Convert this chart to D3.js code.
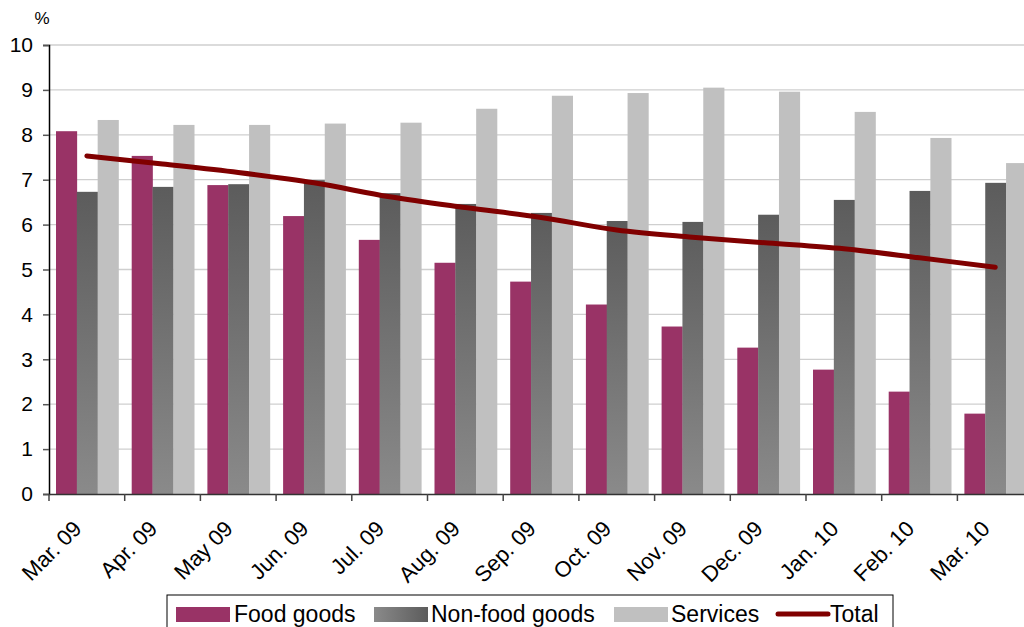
<!DOCTYPE html>
<html>
<head>
<meta charset="utf-8">
<script src="https://cdn.jsdelivr.net/npm/d3@7"></script>
<style>
  body { margin: 0; background: #fff; }
  svg { font-family: "Liberation Sans", Arial, sans-serif; display: block; }
</style>
</head>
<body>
<div id="chart"></div>
<script>
var months = ["Mar. 09", "Apr. 09", "May 09", "Jun. 09", "Jul. 09", "Aug. 09", "Sep. 09",
  "Oct. 09", "Nov. 09", "Dec. 09", "Jan. 10", "Feb. 10", "Mar. 10"];
var foodGoods = [8.08, 7.53, 6.88, 6.19, 5.66, 5.15, 4.73, 4.22, 3.73, 3.26, 2.77, 2.28, 1.79];
var nonFoodGoods = [6.73, 6.84, 6.9, 6.99, 6.7, 6.46, 6.26, 6.08, 6.06, 6.22, 6.55, 6.75, 6.93];
var services = [8.33, 8.22, 8.22, 8.25, 8.27, 8.58, 8.87, 8.93, 9.05, 8.96, 8.51, 7.93, 7.37];
var total = [7.53, 7.35, 7.16, 6.93, 6.62, 6.38, 6.16, 5.88, 5.72, 5.59, 5.46, 5.26, 5.05];
var seriesNames = ["Food goods", "Non-food goods", "Services"];
var yTicks = [0, 1, 2, 3, 4, 5, 6, 7, 8, 9, 10];

var svgWidth = 1024;
var svgHeight = 627;
var plotLeft = 49, plotTop = 45, plotBottom = 494;
var step = 75.7;

var svg = d3.select("#chart")
  .append("svg")
  .attr("width", svgWidth)
  .attr("height", svgHeight);

// gradients for the non-food bars
var defs = svg.append("defs");
var grad = defs.append("linearGradient")
  .attr("id", "nonfood")
  .attr("x1", 0).attr("y1", 0).attr("x2", 0).attr("y2", 1);
grad.append("stop").attr("offset", "0%").attr("stop-color", "#5c5c5c");
grad.append("stop").attr("offset", "100%").attr("stop-color", "#8a8a8a");

var gradH = defs.append("linearGradient")
  .attr("id", "nonfoodH")
  .attr("x1", 0).attr("y1", 0).attr("x2", 1).attr("y2", 0);
gradH.append("stop").attr("offset", "0%").attr("stop-color", "#8a8a8a");
gradH.append("stop").attr("offset", "100%").attr("stop-color", "#5c5c5c");

var x0 = d3.scaleBand()
  .domain(months)
  .range([plotLeft, plotLeft + step * months.length])
  .padding(0);

var x1 = d3.scaleBand()
  .domain(seriesNames)
  .range([7, 69.5]);

var y = d3.scaleLinear()
  .domain([0, 10])
  .range([plotBottom, plotTop]);

var colors = {"Food goods": "#993366", "Non-food goods": "url(#nonfood)", "Services": "#c0c0c0"};
var seriesData = {"Food goods": foodGoods, "Non-food goods": nonFoodGoods, "Services": services};

// gridlines
svg.append("g")
  .selectAll("line")
  .data(yTicks.slice(1))
  .enter()
  .append("line")
  .attr("x1", plotLeft)
  .attr("x2", svgWidth)
  .attr("y1", d => y(d))
  .attr("y2", d => y(d))
  .attr("stroke", "#cfcfcf")
  .attr("stroke-width", 1.3);

// bars
var groups = svg.append("g")
  .selectAll("g")
  .data(months)
  .enter()
  .append("g")
  .attr("transform", d => `translate(${x0(d)},0)`);

groups.selectAll("rect")
  .data((m, i) => seriesNames.map(s => ({key: s, value: seriesData[s][i]})))
  .enter()
  .append("rect")
  .attr("x", d => x1(d.key))
  .attr("width", x1.bandwidth() + 0.3)
  .attr("y", d => y(d.value))
  .attr("height", d => y(0) - y(d.value))
  .attr("fill", d => colors[d.key]);

// total line
var line = d3.line()
  .x((d, i) => x0(months[i]) + step / 2)
  .y(d => y(d))
  .curve(d3.curveCatmullRom);

svg.append("path")
  .datum(total)
  .attr("d", line)
  .attr("fill", "none")
  .attr("stroke", "#800000")
  .attr("stroke-width", 5)
  .attr("stroke-linecap", "round");

// y axis
var yAxis = d3.axisLeft(y).tickValues(yTicks).tickSize(6).tickPadding(10);
var yg = svg.append("g")
  .attr("transform", `translate(${plotLeft},0)`)
  .call(yAxis);
yg.select(".domain").attr("stroke", "#000").attr("stroke-width", 1.5);
yg.selectAll(".tick line").attr("stroke", "#555").attr("stroke-width", 1.5);
yg.selectAll(".tick text")
  .attr("font-size", "21px")
  .attr("fill", "#000")
  .attr("font-family", "'Liberation Sans', Arial, sans-serif");

// x axis
var xAxis = d3.axisBottom(x0).tickSize(0).tickPadding(0);
var xg = svg.append("g")
  .attr("transform", `translate(0,${plotBottom})`)
  .call(xAxis);
xg.select(".domain").attr("stroke", "#333").attr("stroke-width", 1.5);
xg.selectAll(".tick text")
  .attr("font-size", "22px")
  .attr("fill", "#000")
  .attr("font-family", "'Liberation Sans', Arial, sans-serif")
  .attr("text-anchor", "end")
  .attr("dy", 0)
  .attr("transform", "translate(-4,36) rotate(-45)");

xg.selectAll(".boundary")
  .data(months)
  .enter()
  .append("line")
  .attr("x1", d => x0(d))
  .attr("x2", d => x0(d))
  .attr("y1", 0)
  .attr("y2", 7)
  .attr("stroke", "#444")
  .attr("stroke-width", 1.5);

// unit label
svg.append("text")
  .attr("x", 42)
  .attr("y", 24)
  .attr("text-anchor", "middle")
  .attr("font-size", "17px")
  .text("%");

// legend
var legend = svg.append("g");
legend.append("rect")
  .attr("x", 167)
  .attr("y", 595)
  .attr("width", 726)
  .attr("height", 40)
  .attr("fill", "#fff")
  .attr("stroke", "#000")
  .attr("stroke-width", 1);

var legendItems = [
  {name: "Food goods", sx: 176, tx: 234, fill: colors["Food goods"]},
  {name: "Non-food goods", sx: 374, tx: 431, fill: "url(#nonfoodH)"},
  {name: "Services", sx: 614, tx: 671, fill: colors["Services"]}
];

legend.selectAll(".sw")
  .data(legendItems)
  .enter()
  .append("rect")
  .attr("x", d => d.sx)
  .attr("y", 607)
  .attr("width", 54)
  .attr("height", 15)
  .attr("fill", d => d.fill);

legend.selectAll(".lt")
  .data(legendItems.concat([{name: "Total", tx: 830}]))
  .enter()
  .append("text")
  .attr("x", d => d.tx)
  .attr("y", 622)
  .attr("font-size", "23px")
  .text(d => d.name);

legend.append("line")
  .attr("x1", 778)
  .attr("x2", 828)
  .attr("y1", 614)
  .attr("y2", 614)
  .attr("stroke", "#800000")
  .attr("stroke-width", 5)
  .attr("stroke-linecap", "round");
</script>
</body>
</html>
